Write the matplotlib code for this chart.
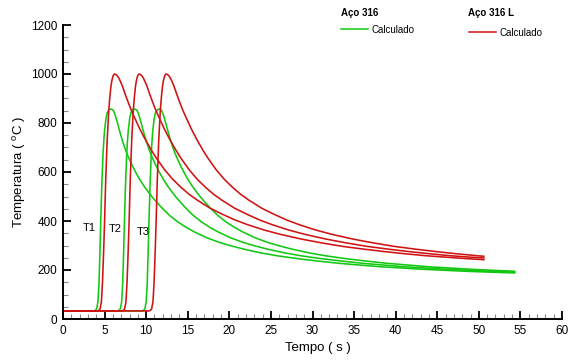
import matplotlib
matplotlib.use("Agg")
import matplotlib.pyplot as plt
from matplotlib.lines import Line2D
from matplotlib.ticker import MultipleLocator

plt.rcParams['font.family'] = ['Liberation Sans', 'DejaVu Sans']

# Thermal cycles at thermocouples T1, T2, T3 (time in s, temperature in degC)

# ---- Steel 316 (green) ----
T_316_rise = [33, 33, 42, 70, 140, 260, 400, 550, 680, 735, 770, 805, 825, 842, 850, 855, 857]
T_316_fall = [855, 850, 838, 822, 798, 772, 742, 715, 690, 668,
              630, 597, 567, 541, 518, 496, 458, 424, 397, 375, 356,
              332, 313, 298, 285, 270, 258, 246, 236, 227, 220, 213, 208, 203, 199, 195, 192, 189]

t_316_T1 = [0, 3.80, 4.05, 4.20, 4.32, 4.43, 4.54, 4.67, 4.82, 4.92, 5.00, 5.12, 5.20, 5.32, 5.45, 5.62, 5.77,
            5.92, 6.07, 6.22, 6.37, 6.57, 6.77, 7.02, 7.27, 7.52, 7.77,
            8.27, 8.77, 9.27, 9.77, 10.27, 10.77, 11.77, 12.77, 13.77, 14.77, 15.77,
            17.27, 18.77, 20.27, 21.77, 23.77, 25.77, 28.27, 30.77, 33.27, 35.77, 38.27,
            40.77, 43.27, 45.77, 48.27, 50.77, 53.27, 54.30]
T_316_T1 = T_316_rise + T_316_fall + [188]

t_316_T2 = [0, 6.65, 6.90, 7.05, 7.17, 7.28, 7.39, 7.52, 7.67, 7.77, 7.85, 7.97, 8.05, 8.17, 8.30, 8.47, 8.62,
            8.77, 8.92, 9.07, 9.22, 9.42, 9.62, 9.87, 10.12, 10.37, 10.62,
            11.12, 11.62, 12.12, 12.62, 13.12, 13.62, 14.62, 15.62, 16.62, 17.62, 18.62,
            20.12, 21.62, 23.12, 24.62, 26.62, 28.62, 31.12, 33.62, 36.12, 38.62, 41.12,
            43.62, 46.12, 48.62, 51.12, 53.62, 54.30]
T_316_T2 = T_316_rise + T_316_fall[:37] + [191]

t_316_T3 = [0, 9.60, 9.85, 10.00, 10.12, 10.23, 10.34, 10.47, 10.62, 10.72, 10.80, 10.92, 11.00, 11.12, 11.25, 11.42, 11.57,
            11.72, 11.87, 12.02, 12.17, 12.37, 12.57, 12.82, 13.07, 13.32, 13.57,
            14.07, 14.57, 15.07, 15.57, 16.07, 16.57, 17.57, 18.57, 19.57, 20.57, 21.57,
            23.07, 24.57, 26.07, 27.57, 29.57, 31.57, 34.07, 36.57, 39.07, 41.57, 44.07,
            46.57, 49.07, 51.57, 54.30]
T_316_T3 = T_316_rise + T_316_fall[:35] + [195]

# ---- Steel 316 L (red) ----
T_316L_rise = [33, 33, 40, 70, 150, 270, 400, 560, 720, 800, 850, 905, 945, 972, 990, 997, 1000]
T_316L_fall = [998, 994, 984, 970, 950, 925, 897, 870, 845, 815,
               778, 745, 714, 685, 658, 610, 570, 537, 508, 484,
               452, 427, 404, 385, 363, 345, 326, 310, 296, 285, 275, 266, 258, 252, 246]

t_316L_T1 = [0, 4.20, 4.45, 4.62, 4.75, 4.88, 5.00, 5.13, 5.30, 5.42, 5.50, 5.63, 5.75, 5.87, 6.00, 6.10, 6.20,
             6.35, 6.50, 6.70, 6.90, 7.15, 7.40, 7.70, 8.00, 8.30, 8.70,
             9.20, 9.70, 10.20, 10.70, 11.20, 12.20, 13.20, 14.20, 15.20, 16.20,
             17.70, 19.20, 20.70, 22.20, 24.20, 26.20, 28.70, 31.20, 33.70, 36.20, 38.70,
             41.20, 43.70, 46.20, 48.70, 50.60]
T_316L_T1 = T_316L_rise + T_316L_fall + [242]

t_316L_T2 = [0, 7.15, 7.40, 7.57, 7.70, 7.83, 7.95, 8.08, 8.25, 8.37, 8.45, 8.58, 8.70, 8.82, 8.95, 9.05, 9.15,
             9.30, 9.45, 9.65, 9.85, 10.10, 10.35, 10.65, 10.95, 11.25, 11.65,
             12.15, 12.65, 13.15, 13.65, 14.15, 15.15, 16.15, 17.15, 18.15, 19.15,
             20.65, 22.15, 23.65, 25.15, 27.15, 29.15, 31.65, 34.15, 36.65, 39.15, 41.65,
             44.15, 46.65, 49.15, 50.60]
T_316L_T2 = T_316L_rise + T_316L_fall[:34] + [249]

t_316L_T3 = [0, 10.40, 10.65, 10.82, 10.95, 11.08, 11.20, 11.33, 11.50, 11.62, 11.70, 11.83, 11.95, 12.07, 12.20, 12.30, 12.40,
             12.55, 12.70, 12.90, 13.10, 13.35, 13.60, 13.90, 14.20, 14.50, 14.90,
             15.40, 15.90, 16.40, 16.90, 17.40, 18.40, 19.40, 20.40, 21.40, 22.40,
             23.90, 25.40, 26.90, 28.40, 30.40, 32.40, 34.90, 37.40, 39.90, 42.40, 44.90,
             47.40, 49.90, 50.60]
T_316L_T3 = T_316L_rise + T_316L_fall[:33] + [256]

probe_labels = ["T1", "T2", "T3"]
probe_label_x = [3.2, 6.3, 9.6]
probe_label_y = [370, 366, 355]

GREEN = "#12C812"
RED = "#D01212"

W, H = 568, 361
fig = plt.figure(figsize=(W / 100, H / 100), dpi=100)


def fx(px):
    return px / W


def fy(py):
    return 1 - py / H


ax = fig.add_axes([fx(63), fy(319), fx(562) - fx(63), fy(25) - fy(319)])

for t, T in [(t_316_T1, T_316_T1), (t_316_T2, T_316_T2), (t_316_T3, T_316_T3)]:
    ax.plot(t, T, color=GREEN, lw=1.15, solid_joinstyle='round')
for t, T in [(t_316L_T1, T_316L_T1), (t_316L_T2, T_316L_T2), (t_316L_T3, T_316L_T3)]:
    ax.plot(t, T, color=RED, lw=1.15, solid_joinstyle='round')

for lab, x, y in zip(probe_labels, probe_label_x, probe_label_y):
    ax.text(x, y, lab, fontsize=8, ha='center', va='center')

ax.set_xlim(0, 60)
ax.set_ylim(0, 1200)
ax.xaxis.set_major_locator(MultipleLocator(5))
ax.xaxis.set_minor_locator(MultipleLocator(1))
ax.yaxis.set_major_locator(MultipleLocator(200))
ax.yaxis.set_minor_locator(MultipleLocator(50))

for s in ['top', 'right']:
    ax.spines[s].set_visible(False)
for s in ['left', 'bottom']:
    ax.spines[s].set_linewidth(1.4)

ax.tick_params(which='major', direction='in', length=6, width=1.3,
               labelsize=8.5, pad=4, color='black')
ax.tick_params(which='minor', direction='in', length=3.5, width=0.8,
               color='#888888')

fig.text(fx(318), fy(348), "Tempo ( s )", fontsize=9.5, ha='center', va='center')
fig.text(fx(20), fy(172), r"Temperatura ( $\mathregular{^{o}}$C )", fontsize=9.5,
         ha='center', va='center', rotation=90)

# Legend block
fig.text(fx(341), fy(13), "Aço 316", fontsize=7, fontweight='bold', ha='left', va='center')
fig.add_artist(Line2D([fx(341), fx(368)], [fy(29), fy(29)], color=GREEN, lw=1.1))
fig.text(fx(372), fy(30), "Calculado", fontsize=7, ha='left', va='center')

fig.text(fx(468), fy(13.5), "Aço 316 L", fontsize=7, fontweight='bold', ha='left', va='center')
fig.add_artist(Line2D([fx(469), fx(496)], [fy(31.5), fy(31.5)], color=RED, lw=1.1))
fig.text(fx(500), fy(32.5), "Calculado", fontsize=7, ha='left', va='center')

fig.savefig("out.png", dpi=100)
